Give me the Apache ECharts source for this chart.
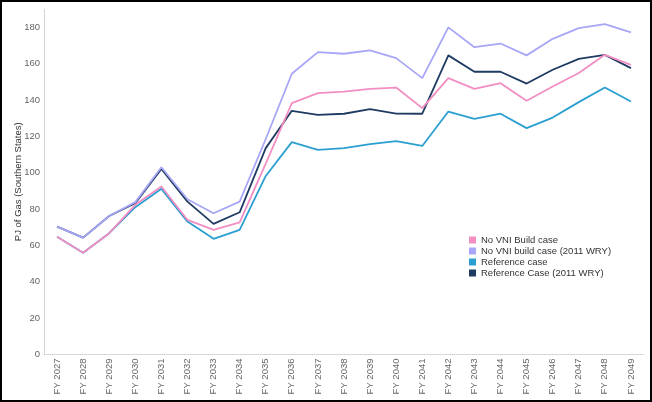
<!DOCTYPE html>
<html>
<head>
<meta charset="utf-8">
<script src="https://cdn.jsdelivr.net/npm/echarts@6/dist/echarts.min.js"></script>
<style>
  html, body { margin: 0; padding: 0; background: #fff; }
  #frame { width: 652px; height: 402px; box-sizing: border-box; border: 2px solid #000; position: relative; }
  #main { position: absolute; left: -2px; top: -2px; width: 652px; height: 402px; }
</style>
</head>
<body>
<div id="frame"><div id="main"></div></div>
<script>
var years = ['FY 2027','FY 2028','FY 2029','FY 2030','FY 2031','FY 2032','FY 2033','FY 2034',
  'FY 2035','FY 2036','FY 2037','FY 2038','FY 2039','FY 2040','FY 2041','FY 2042','FY 2043',
  'FY 2044','FY 2045','FY 2046','FY 2047','FY 2048','FY 2049'];

var noVniBuild = [64.8, 56, 66.7, 82.3, 92.4, 74, 68.5, 72.7, 105, 138.2, 143.7, 144.6, 146.1,
  146.8, 135.5, 152, 146.1, 149.2, 139.5, 147.4, 154.8, 164.8, 159.3];
var noVniBuildWry = [70.3, 64.3, 76.2, 83.8, 103, 85.4, 77.7, 84.1, 118.5, 154.4, 166.3, 165.4,
  167.2, 163, 152, 179.9, 169, 171, 164.5, 173.6, 179.5, 181.7, 177.1];
var referenceCase = [64.8, 56, 66.7, 81, 91.1, 73.1, 63.6, 68.5, 98.2, 116.8, 112.5, 113.5, 115.7,
  117.3, 114.7, 133.6, 129.6, 132.4, 124.5, 130.3, 138.8, 146.8, 139.1];
var referenceCaseWry = [70.3, 64.3, 76.2, 83.2, 102, 84.1, 71.8, 78.2, 113.5, 134, 131.8, 132.4,
  134.9, 132.5, 132.4, 164.5, 155.5, 155.5, 149, 156.6, 162.6, 164.8, 157.5];

var seriesNames = ['No VNI Build case', 'No VNI build case (2011 WRY)', 'Reference case', 'Reference Case (2011 WRY)'];
var colors = { pink: '#f28ec2', lilac: '#a8a6f6', cyan: '#2b9fd1', navy: '#1f3b62' };

var myChart = echarts.init(document.getElementById('main'));

function line(name, data, color) {
  return {
    name: name,
    type: 'line',
    data: data,
    showSymbol: false,
    symbol: 'none',
    lineStyle: { width: 1.8, color: color },
    itemStyle: { color: color }
  };
}

var option = {
  animation: false,
  textStyle: { fontFamily: 'Liberation Sans, Arial, sans-serif' },
  grid: { left: 44, right: 8, top: 9, bottom: 47.5, containLabel: false, outerBoundsMode: 'none' },
  legend: {
    orient: 'vertical',
    left: 469,
    top: 235,
    padding: 0,
    icon: 'rect',
    itemWidth: 7,
    itemHeight: 7,
    itemGap: 1,
    data: seriesNames,
    textStyle: { fontSize: 9.5, color: '#333', lineHeight: 10 }
  },
  xAxis: {
    type: 'category',
    data: years,
    boundaryGap: true,
    axisLine: { show: true, lineStyle: { color: '#cfcfcf', type: 'dotted', width: 1 } },
    axisTick: { show: false },
    axisLabel: { rotate: 90, color: '#666', fontSize: 9.5, margin: 4, interval: 0 },
    splitLine: { show: false }
  },
  yAxis: {
    type: 'value',
    min: 0,
    max: 190,
    interval: 20,
    name: 'PJ of Gas (Southern States)',
    nameLocation: 'middle',
    nameGap: 21,
    nameMoveOverlap: false,
    nameTextStyle: { fontSize: 9.5, color: '#333' },
    axisLine: { show: true, lineStyle: { color: '#cfcfcf', type: 'dotted', width: 1 } },
    axisTick: { show: false },
    axisLabel: { color: '#666', fontSize: 9.5, margin: 4, showMaxLabel: false },
    splitLine: { show: false }
  },
  series: [
    line(seriesNames[2], referenceCase, colors.cyan),
    line(seriesNames[3], referenceCaseWry, colors.navy),
    line(seriesNames[0], noVniBuild, colors.pink),
    line(seriesNames[1], noVniBuildWry, colors.lilac)
  ]
};

myChart.setOption(option);
</script>
</body>
</html>
